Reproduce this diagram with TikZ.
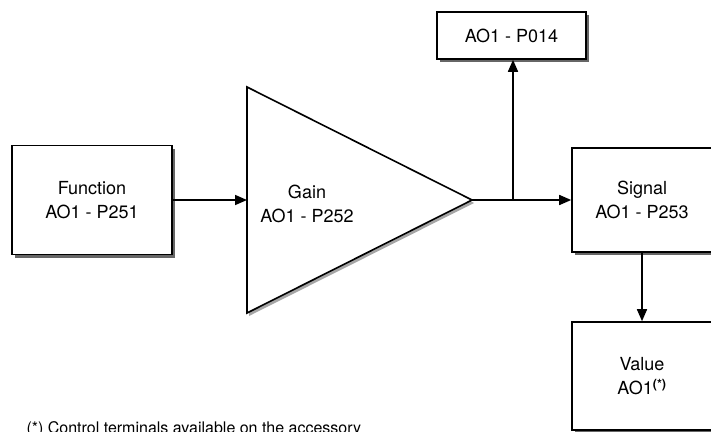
\documentclass[tikz,border=0pt]{standalone}
\usepackage{fontspec}
\setmainfont{TeX Gyre Heros}
\usetikzlibrary{arrows.meta, positioning, shadows}

\begin{document}
\begin{tikzpicture}[x=1pt, y=-1pt,
    block/.style={draw, line width=1.6pt, fill=white, align=center, inner sep=0pt,
        drop shadow={shadow xshift=3pt, shadow yshift=-3pt, fill=black!60, opacity=1},
        font=\fontsize{18}{24}\selectfont},
    link/.style={line width=1.6pt, -{Triangle[length=12pt, width=10pt]}}]
    \clip (0,0) rectangle (711,431);
    \node[block, minimum width=160pt, minimum height=109pt] (function) at (92,200) {Function\\AO1 - P251};
    \draw[line width=1.6pt, fill=white, drop shadow={shadow xshift=2pt, shadow yshift=-3pt, fill=black!35, opacity=1}]
        (247,87) coordinate (gaintop) -- (472,200) coordinate (gainout) -- (247,313) coordinate (gainbot) -- cycle;
    \coordinate (gainin) at (247,200);
    \node[align=center, font=\fontsize{18}{24}\selectfont] (gain) at (307,204) {Gain\\AO1 - P252};
    \node[block, minimum width=149pt, minimum height=47pt] (p014) at (511.5,35.5) {AO1 - P014};
    \node[block, minimum width=140pt, minimum height=104pt] (signal) at (642,200) {Signal\\AO1 - P253};
    \node[block, minimum width=140pt, minimum height=108pt] (value) at (642,376) {Value\\AO1\textsuperscript{\bfseries(*)}};
    \coordinate (split) at (513,200);
    \draw[link] (function.east) -- (gainin);
    \draw[line width=1.6pt] (gainout) -- (split);
    \draw[link] (split) -- (signal.west);
    \draw[link] (split) -- (split |- p014.south);
    \draw[link] (signal.south) -- (value.north);
    \node[anchor=base west, font=\fontsize{16}{19}\selectfont] (note) at (23,433) {(*) Control terminals available on the accessory};
\end{tikzpicture}
\end{document}
